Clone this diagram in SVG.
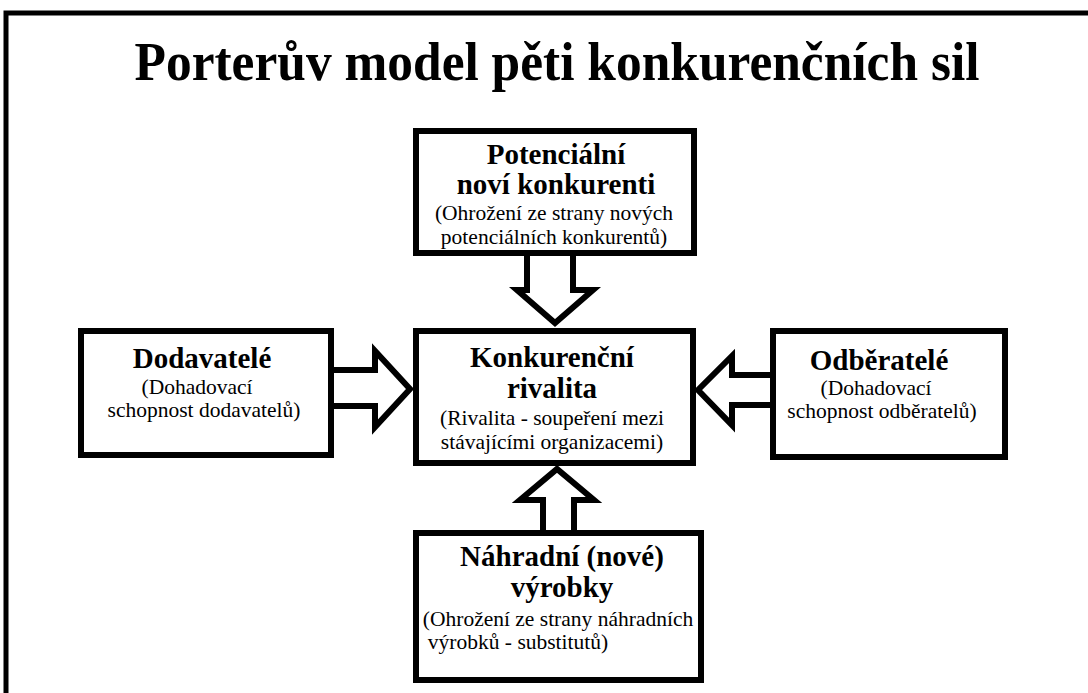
<svg xmlns="http://www.w3.org/2000/svg" width="1088" height="693" viewBox="0 0 1088 693">
<style>
.box{fill:#fff;stroke:#000;stroke-width:6}
.arr{fill:#fff;stroke:#000;stroke-width:6;stroke-linejoin:miter;stroke-miterlimit:10}
text{font-family:"Liberation Serif","Times New Roman",serif;fill:#000;text-anchor:middle}
.b{font-weight:bold;font-size:29px}
.r{font-size:21.5px}
</style>
<rect x="0" y="0" width="1088" height="693" fill="#fff"/>
<rect x="6" y="13" width="1100" height="700" fill="none" stroke="#000" stroke-width="5"/>
<text x="557" y="80" font-size="54" font-weight="bold" textLength="845" lengthAdjust="spacingAndGlyphs">Porterův model pěti konkurenčních sil</text>
<g id="connectors">
<polygon class="arr" points="527,253 573,253 573,290 593,290 555,323 517,290 527,290"/>
<polygon class="arr" points="331,370 375,370 375,351 410,389 375,427 375,406 331,406"/>
<polygon class="arr" points="773,375 732,375 732,356 698,390 732,425 732,405 773,405"/>
<polygon class="arr" points="543,533 543,500 520,500 557,469 594,500 574,500 574,533"/>
</g>
<g id="node-top">
<rect class="box" x="416" y="131" width="278" height="122"/>
<text class="b" x="556" y="164">Potenciální</text>
<text class="b" x="556" y="194">noví konkurenti</text>
<text class="r" x="554" y="220">(Ohrožení ze strany nových</text>
<text class="r" x="554" y="244">potenciálních konkurentů)</text>
</g>
<g id="node-center">
<rect class="box" x="416" y="331" width="277" height="132"/>
<text class="b" x="552" y="367">Konkurenční</text>
<text class="b" x="552" y="398">rivalita</text>
<text class="r" x="552" y="425">(Rivalita - soupeření mezi</text>
<text class="r" x="552" y="449">stávajícími organizacemi)</text>
</g>
<g id="node-left">
<rect class="box" x="81" y="331" width="250" height="124"/>
<text class="b" x="202" y="368">Dodavatelé</text>
<text class="r" x="197" y="394">(Dohadovací</text>
<text class="r" x="204" y="417">schopnost dodavatelů)</text>
</g>
<g id="node-right">
<rect class="box" x="773" y="331" width="232" height="126"/>
<text class="b" x="879" y="370">Odběratelé</text>
<text class="r" x="876" y="395">(Dohadovací</text>
<text class="r" x="882" y="418">schopnost odběratelů)</text>
</g>
<g id="node-bottom">
<rect class="box" x="416" y="533" width="285" height="147"/>
<text class="b" x="562" y="566">Náhradní (nové)</text>
<text class="b" x="562" y="597">výrobky</text>
<text class="r" x="558" y="626">(Ohrožení ze strany náhradních</text>
<text class="r" x="518" y="649">výrobků - substitutů)</text>
</g>
</svg>
